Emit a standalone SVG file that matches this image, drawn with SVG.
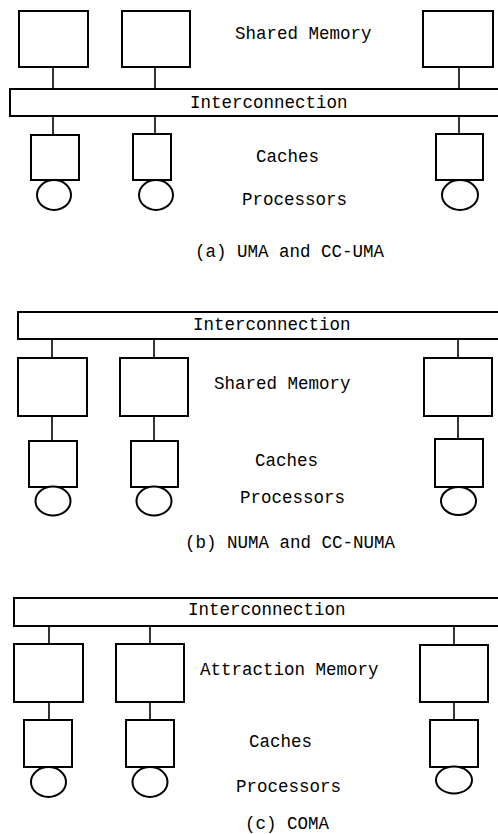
<svg xmlns="http://www.w3.org/2000/svg" width="498" height="834" viewBox="0 0 498 834">
<style>
.b{fill:#fff;stroke:#000;stroke-width:2}
.c{fill:#fff;stroke:#000;stroke-width:2}
.l{stroke:#000;stroke-width:1.6;fill:none}
text{font-family:"Liberation Mono","Courier New",monospace;font-size:17.5px;fill:#000}
</style>
<rect width="498" height="834" fill="#fff"/>
<g id="connectors">
<line class="l" x1="53" y1="67" x2="53" y2="135"/>
<line class="l" x1="155" y1="67" x2="155" y2="134"/>
<line class="l" x1="459" y1="67" x2="459" y2="134"/>
<line class="l" x1="52" y1="339" x2="52" y2="441"/>
<line class="l" x1="154" y1="339" x2="154" y2="441"/>
<line class="l" x1="458" y1="339" x2="458" y2="439"/>
<line class="l" x1="49" y1="626" x2="49" y2="720"/>
<line class="l" x1="150" y1="626" x2="150" y2="720"/>
<line class="l" x1="454" y1="626" x2="454" y2="720"/>
</g>
<g id="a">
<g id="a-bus"><rect class="b" x="10" y="89" width="500" height="27"/><text x="190" y="108">Interconnection</text></g>
<g id="a-mem1"><rect class="b" x="19" y="11" width="69" height="56"/></g>
<g id="a-mem2"><rect class="b" x="122" y="11" width="68" height="56"/></g>
<g id="a-mem3"><rect class="b" x="423" y="11" width="70" height="56"/></g>
<g id="a-cache1"><rect class="b" x="31" y="135" width="48" height="45"/></g>
<g id="a-cache2"><rect class="b" x="133" y="134" width="38" height="46"/></g>
<g id="a-cache3"><rect class="b" x="436" y="134" width="47" height="46"/></g>
<g id="a-proc1"><ellipse class="c" cx="54" cy="195" rx="17" ry="15"/></g>
<g id="a-proc2"><ellipse class="c" cx="156" cy="195" rx="17" ry="15"/></g>
<g id="a-proc3"><ellipse class="c" cx="460" cy="195" rx="18" ry="15"/></g>
<text x="235" y="39">Shared Memory</text>
<text x="256" y="162">Caches</text>
<text x="242" y="205">Processors</text>
<text x="195" y="257">(a) UMA and CC-UMA</text>
</g>
<g id="b">
<g id="b-bus"><rect class="b" x="18" y="312" width="500" height="27"/><text x="193" y="330">Interconnection</text></g>
<g id="b-mem1"><rect class="b" x="18" y="358" width="69" height="58"/></g>
<g id="b-mem2"><rect class="b" x="120" y="358" width="68" height="58"/></g>
<g id="b-mem3"><rect class="b" x="424" y="358" width="68" height="58"/></g>
<g id="b-cache1"><rect class="b" x="29" y="441" width="48" height="46"/></g>
<g id="b-cache2"><rect class="b" x="131" y="441" width="47" height="46"/></g>
<g id="b-cache3"><rect class="b" x="435" y="439" width="48" height="48"/></g>
<g id="b-proc1"><ellipse class="c" cx="53" cy="501" rx="17.5" ry="14.5"/></g>
<g id="b-proc2"><ellipse class="c" cx="154" cy="501" rx="17.5" ry="14.5"/></g>
<g id="b-proc3"><ellipse class="c" cx="458.5" cy="501" rx="17.5" ry="14"/></g>
<text x="214" y="389">Shared Memory</text>
<text x="255" y="466">Caches</text>
<text x="240" y="503">Processors</text>
<text x="185" y="548">(b) NUMA and CC-NUMA</text>
</g>
<g id="c">
<g id="c-bus"><rect class="b" x="14" y="598" width="500" height="28"/><text x="188" y="615">Interconnection</text></g>
<g id="c-mem1"><rect class="b" x="14" y="644" width="69" height="58"/></g>
<g id="c-mem2"><rect class="b" x="116" y="644" width="68" height="58"/></g>
<g id="c-mem3"><rect class="b" x="420" y="645" width="68" height="57"/></g>
<g id="c-cache1"><rect class="b" x="24" y="720" width="48" height="47"/></g>
<g id="c-cache2"><rect class="b" x="126" y="720" width="48" height="47"/></g>
<g id="c-cache3"><rect class="b" x="430" y="720" width="48" height="47"/></g>
<g id="c-proc1"><ellipse class="c" cx="48.5" cy="782" rx="17.5" ry="15"/></g>
<g id="c-proc2"><ellipse class="c" cx="150" cy="782" rx="17.5" ry="15"/></g>
<g id="c-proc3"><ellipse class="c" cx="454" cy="780" rx="18" ry="13.5"/></g>
<text x="200" y="675">Attraction Memory</text>
<text x="249" y="747">Caches</text>
<text x="236" y="792">Processors</text>
<text x="245" y="829">(c) COMA</text>
</g>
</svg>
